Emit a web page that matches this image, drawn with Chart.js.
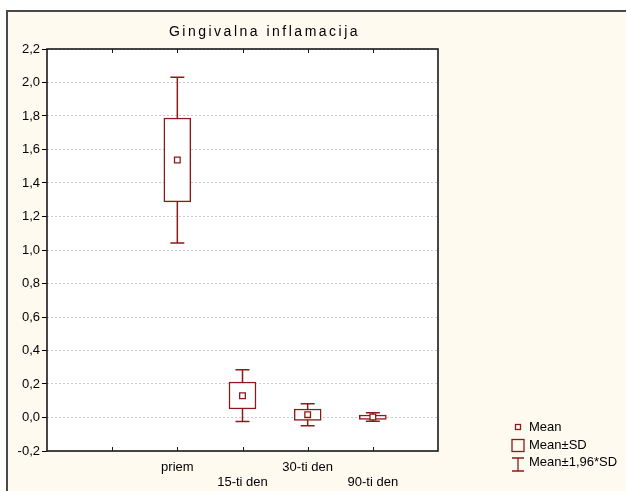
<!DOCTYPE html>
<html>
<head>
<meta charset="utf-8">
<script src="https://cdn.jsdelivr.net/npm/chart.js@4/dist/chart.umd.min.js"></script>
<style>
  html, body { margin: 0; padding: 0; background: #ffffff; }
  #wrap { width: 627px; height: 491px; }
</style>
</head>
<body>
<div id="wrap"><canvas id="c" width="627" height="491"></canvas></div>
<script>
// ---- data ----
const chartTitle = 'Gingivalna inflamacija';
const categories = ['priem', '15-ti den', '30-ti den', '90-ti den'];
const categoryPositions = [2, 3, 4, 5];
const means  = [1.537, 0.130, 0.017, 0.003];
const sdLow  = [1.287, 0.051, -0.017, -0.011];
const sdHigh = [1.788, 0.212, 0.051, 0.015];
const ciLow  = [1.042, -0.024, -0.049, -0.023];
const ciHigh = [2.032, 0.285, 0.082, 0.029];
const legendLabels = ['Mean', 'Mean±SD', 'Mean±1,96*SD'];
const yMin = -0.2, yMax = 2.2, yStep = 0.2;
const xMin = 0, xMax = 6;

// ---- styles ----
const RED = '#8c1a1a';
const CREAM = '#fffaf0';
const FONT = '"Liberation Sans", Arial, sans-serif';

const boxData = categoryPositions.map((x, i) => ({ x: x, y: [sdLow[i], sdHigh[i]] }));
const meanData = categoryPositions.map((x, i) => ({ x: x, y: means[i] }));

const decorPlugin = {
  id: 'decor',
  beforeDraw(chart) {
    const ctx = chart.ctx;
    const ca = chart.chartArea;
    ctx.save();
    ctx.fillStyle = '#ffffff';
    ctx.fillRect(0, 0, chart.width, chart.height);
    ctx.fillStyle = CREAM;
    ctx.fillRect(7, 10, chart.width - 8, chart.height - 10);
    ctx.strokeStyle = '#4a4a4a';
    ctx.lineWidth = 2;
    ctx.beginPath();
    ctx.moveTo(7, chart.height);
    ctx.lineTo(7, 11);
    ctx.lineTo(chart.width - 1, 11);
    ctx.stroke();
    ctx.fillStyle = '#ffffff';
    ctx.fillRect(ca.left, ca.top, ca.right - ca.left, ca.bottom - ca.top);
    ctx.restore();
  },
  beforeDatasetsDraw(chart) {
    // whiskers (Mean ± 1,96*SD)
    const ctx = chart.ctx;
    const xs = chart.scales.x, ys = chart.scales.y;
    ctx.save();
    ctx.strokeStyle = RED;
    ctx.lineWidth = 1.5;
    categoryPositions.forEach((xv, i) => {
      const px = xs.getPixelForValue(xv);
      const top = ys.getPixelForValue(ciHigh[i]);
      const bot = ys.getPixelForValue(ciLow[i]);
      ctx.beginPath();
      ctx.moveTo(px, top); ctx.lineTo(px, bot);
      ctx.moveTo(px - 7, top); ctx.lineTo(px + 7, top);
      ctx.moveTo(px - 7, bot); ctx.lineTo(px + 7, bot);
      ctx.stroke();
    });
    ctx.restore();
  },
  afterDraw(chart) {
    const ctx = chart.ctx;
    const ca = chart.chartArea;
    const xs = chart.scales.x;
    ctx.save();
    // frame
    ctx.strokeStyle = '#1a1a1a';
    ctx.lineWidth = 1.6;
    ctx.strokeRect(ca.left, ca.top, ca.right - ca.left, ca.bottom - ca.top);
    // inward x ticks at top and bottom
    ctx.lineWidth = 1;
    ctx.beginPath();
    for (let v = xMin + 1; v < xMax; v++) {
      const px = Math.round(xs.getPixelForValue(v)) + 0.5;
      ctx.moveTo(px, ca.top); ctx.lineTo(px, ca.top + 4);
      ctx.moveTo(px, ca.bottom); ctx.lineTo(px, ca.bottom - 4);
    }
    ctx.stroke();
    // title
    ctx.fillStyle = '#000';
    ctx.font = '14px ' + FONT;
    ctx.textAlign = 'center';
    ctx.textBaseline = 'middle';
    if ('letterSpacing' in ctx) ctx.letterSpacing = '2.5px';
    ctx.fillText(chartTitle, (ca.left + ca.right) / 2 + 22, 32);
    if ('letterSpacing' in ctx) ctx.letterSpacing = '0px';
    // legend
    const lx = ca.right + 74;
    const ly = ca.bottom - 24;
    ctx.strokeStyle = RED;
    ctx.lineWidth = 1.3;
    ctx.fillStyle = '#ffffff';
    ctx.fillRect(lx + 3.5, ly - 2.5, 5, 5);
    ctx.strokeRect(lx + 3.5, ly - 2.5, 5, 5);
    ctx.strokeRect(lx, ly + 12.5, 12, 12);
    ctx.beginPath();
    ctx.moveTo(lx, ly + 31); ctx.lineTo(lx + 12, ly + 31);
    ctx.moveTo(lx + 6, ly + 31); ctx.lineTo(lx + 6, ly + 44);
    ctx.moveTo(lx, ly + 44); ctx.lineTo(lx + 12, ly + 44);
    ctx.stroke();
    ctx.fillStyle = '#000';
    ctx.textAlign = 'left';
    ctx.font = '13px ' + FONT;
    ctx.fillText(legendLabels[0], lx + 17, ly);
    ctx.fillText(legendLabels[1], lx + 17, ly + 18);
    ctx.fillText(legendLabels[2], lx + 17, ly + 35);
    ctx.restore();
  }
};

new Chart(document.getElementById('c'), {
  type: 'bar',
  data: {
    datasets: [
      {
        type: 'bar',
        label: 'Mean±SD',
        data: boxData,
        backgroundColor: '#ffffff',
        borderColor: RED,
        borderWidth: 1.5,
        borderSkipped: false,
        barThickness: 27,
        order: 2
      },
      {
        type: 'scatter',
        label: 'Mean',
        data: meanData,
        pointStyle: 'rect',
        pointRadius: 4,
        pointBackgroundColor: '#ffffff',
        pointBorderColor: RED,
        pointBorderWidth: 1.3,
        order: 1
      }
    ]
  },
  options: {
    responsive: false,
    animation: false,
    devicePixelRatio: 1,
    layout: { padding: { left: 0, top: 49, right: 189, bottom: 0 } },
    plugins: { legend: { display: false }, tooltip: { enabled: false }, title: { display: false } },
    scales: {
      x: {
        type: 'linear',
        min: xMin, max: xMax,
        offset: false,
        grid: { display: false, drawTicks: false },
        border: { display: false },
        afterFit(s) { s.height = 40; },
        ticks: {
          stepSize: 1,
          autoSkip: false,
          maxRotation: 0,
          padding: 9,
          color: '#000',
          font: { family: FONT, size: 13, lineHeight: 1.15 },
          callback(v) {
            const i = categoryPositions.indexOf(v);
            if (i < 0) return '';
            return i % 2 === 0 ? categories[i] : ['', categories[i]];
          }
        }
      },
      y: {
        type: 'linear',
        min: yMin, max: yMax,
        afterFit(s) { s.width = 47; },
        grid: { color: '#cccccc', lineWidth: 1, tickColor: '#000', tickLength: 5 },
        border: { display: false, dash: [2, 2] },
        ticks: {
          stepSize: yStep,
          padding: 2,
          color: '#000',
          font: { family: FONT, size: 13 },
          callback(v) { return v.toFixed(1).replace('.', ','); }
        }
      }
    }
  },
  plugins: [decorPlugin]
});
</script>
</body>
</html>
